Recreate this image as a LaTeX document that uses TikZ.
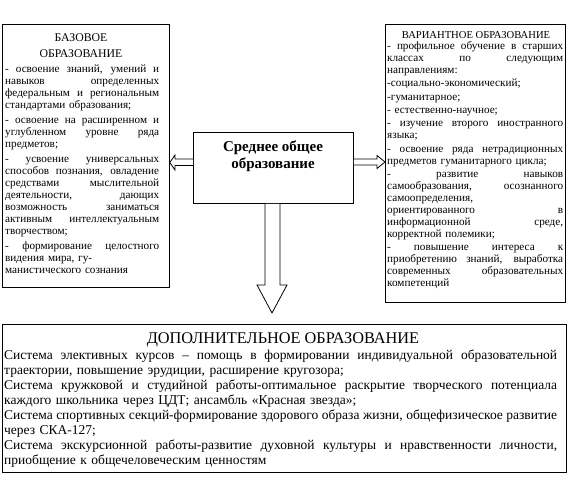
\documentclass[tikz,border=0pt]{standalone}
\usepackage{fontspec}
\setmainfont{Liberation Serif}
\newcommand\J[1]{\noindent\hbox to \hsize{\spaceskip=0pt\xspaceskip=0pt #1}}
\tikzset{
  box/.style={draw, line width=0.8pt, fill=white, inner sep=0pt},
  txt/.style={inner sep=0pt, align=left, anchor=base west},
  ttl/.style={inner sep=0pt, anchor=base},
  hollow/.style={draw, line width=0.8pt, fill=white, line join=miter}
}
\begin{document}
\begin{tikzpicture}[x=1pt,y=-1pt]
\useasboundingbox (0,0) rectangle (570,482);
% boxes
\node[box, anchor=north west, minimum width=167pt, minimum height=263pt] (base) at (2,24) {};
\node[box, anchor=north west, minimum width=180pt, minimum height=278pt] (var) at (385,24) {};
\node[box, anchor=north west, minimum width=160pt, minimum height=71pt] (mid) at (193,132) {};
\node[box, anchor=north west, minimum width=564pt, minimum height=148pt] (dop) at (2,324) {};
% titles
\node[ttl, font=\fontsize{11.8}{17}\selectfont] (bt1) at (81,41) {БАЗОВОЕ};
\node[ttl, font=\fontsize{11.8}{17}\selectfont] (bt2) at (81,57) {ОБРАЗОВАНИЕ};
\node[ttl, font=\fontsize{10.6}{12}\selectfont] (vt) at (476,38.5) {ВАРИАНТНОЕ ОБРАЗОВАНИЕ};
\node[ttl, font=\fontsize{16.3}{17}\selectfont] (dt) at (283,343) {ДОПОЛНИТЕЛЬНОЕ ОБРАЗОВАНИЕ};
\node[ttl, font=\fontsize{15}{17}\selectfont\bfseries] (m1) at (273,151) {Среднее общее};
\node[ttl, font=\fontsize{15}{17}\selectfont\bfseries] (m2) at (273,168) {образование};
% left text
\node[txt, text width=154pt, font=\fontsize{11.2}{12.15}\selectfont] (btx) at (5,72) {%
\J{- освоение знаний, умений и}\\
\J{навыков определенных}\\
\J{федеральным и региональным}\\
стандартами образования;\\[2.5pt]
\J{- освоение на расширенном и}\\
\J{углубленном уровне ряда}\\
предметов;\\[2.5pt]
\J{- усвоение универсальных}\\
\J{способов познания, овладение}\\
\J{средствами мыслительной}\\
\J{деятельности, дающих}\\
\J{возможность заниматься}\\
\J{активным интеллектуальным}\\
творчеством;\\[2.5pt]
\J{- формирование целостного}\\
видения мира, гу-\\
манистического сознания};
% right text
\node[txt, text width=176pt, font=\fontsize{11.2}{12}\selectfont] (vtx) at (387,49.5) {%
\J{- профильное обучение в старших}\\
\J{классах по следующим}\\
направлениям:\\[1.3pt]
-социально-экономический;\\[1.3pt]
-гуманитарное;\\[1.3pt]
- естественно-научное;\\[1.3pt]
\J{- изучение второго иностранного}\\
языка;\\[1.3pt]
\J{- освоение ряда нетрадиционных}\\
предметов гуманитарного цикла;\\[1.3pt]
\J{- развитие навыков}\\
\J{самообразования, осознанного}\\
самоопределения,\\
\J{ориентированного в}\\
\J{информационной среде,}\\
корректной полемики;\\[1.3pt]
\J{- повышение интереса к}\\
\J{приобретению знаний, выработка}\\
\J{современных образовательных}\\
компетенций};
% bottom text
\node[txt, text width=553pt, font=\fontsize{13.5}{15}\selectfont] (dtx) at (4,359) {%
\J{Система элективных курсов – помощь в формировании индивидуальной образовательной}\\
траектории, повышение эрудиции, расширение кругозора;\\
\J{Система кружковой и студийной работы-оптимальное раскрытие творческого потенциала}\\
каждого школьника через ЦДТ; ансамбль «Красная звезда»;\\
\J{Система спортивных секций-формирование здорового образа жизни, общефизическое развитие}\\
через СКА-127;\\
\J{Система экскурсионной работы-развитие духовной культуры и нравственности личности,}\\
приобщение к общечеловеческим ценностям};
% hollow arrows
\draw[hollow] (mid.west |- 0,159) -- (175,159) -- (175,155) -- (base.east |- 0,162.5)
  -- (175,170) -- (175,165.5) -- (mid.west |- 0,165.5);
\draw[hollow] (mid.east |- 0,159) -- (377,159) -- (377,155.5) -- (var.west |- 0,162)
  -- (377,168.5) -- (377,165) -- (mid.east |- 0,165);
\coordinate (tip) at (272,313);
\draw[hollow] (265,0 |- mid.south) -- (265,285) -- (257,285) -- (tip)
  -- (287,285) -- (280,285) -- (280,0 |- mid.south);
\end{tikzpicture}
\end{document}
